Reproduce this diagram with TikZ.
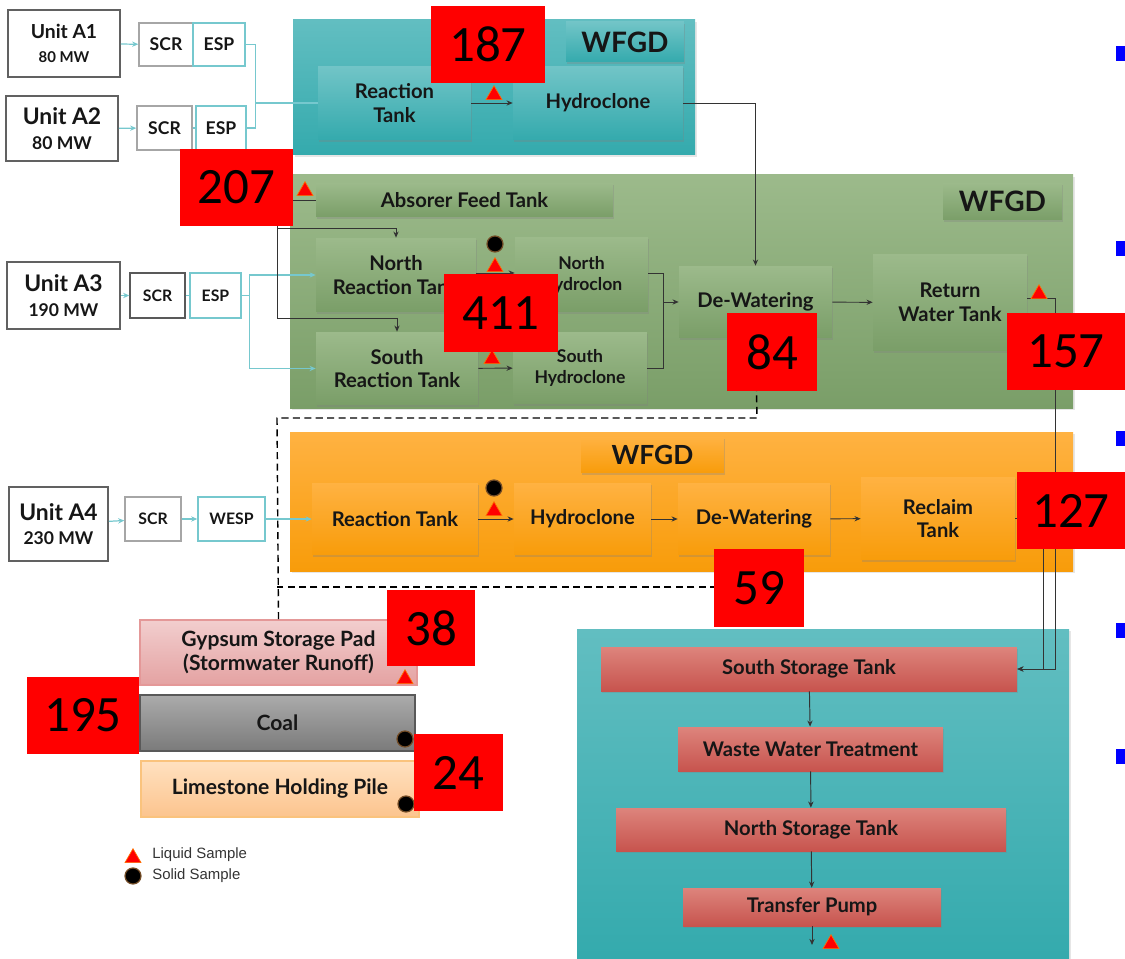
\documentclass[tikz,border=0pt]{standalone}
\usepackage{fontspec}
\setmainfont{Lato}
\newfontfamily\numfont{Carlito}
\newfontfamily\legendfont{Liberation Sans}
\usetikzlibrary{shapes.geometric,shadows,arrows.meta}

\definecolor{ink}{RGB}{22,22,22}
\definecolor{feedcol}{RGB}{118,200,206}
\definecolor{tallyred}{RGB}{255,0,0}
\definecolor{tealtop}{RGB}{98,190,193}
\definecolor{tealbot}{RGB}{52,170,173}
\definecolor{greentop}{RGB}{156,186,139}
\definecolor{greenbot}{RGB}{122,158,104}
\definecolor{orangetop}{RGB}{255,178,66}
\definecolor{orangebot}{RGB}{248,156,10}
\definecolor{redtop}{RGB}{221,132,124}
\definecolor{redbot}{RGB}{199,84,78}

\tikzset{
  unitbox/.style={draw=black!62, line width=0.9pt, fill=white, align=center,
    inner sep=0pt, text=ink, font=\bfseries\fontsize{13}{14}\selectfont},
  scrbox/.style={draw=black!35, line width=0.8pt, fill=white, inner sep=0pt,
    text=ink, font=\bfseries\fontsize{10}{10}\selectfont},
  espbox/.style={scrbox, draw=feedcol},
  tank/.style={align=center, inner sep=1pt, text=ink,
    font=\bfseries\fontsize{11.5}{13.5}\selectfont,
    drop shadow={shadow xshift=0.8pt, shadow yshift=-1.2pt, opacity=0.3}},
  tealtank/.style={tank, top color=tealtop!90!white, bottom color=tealbot},
  greentank/.style={tank, top color=greentop, bottom color=greenbot},
  orangetank/.style={tank, top color=orangetop, bottom color=orangebot},
  redtank/.style={tank, top color=redtop, bottom color=redbot},
  wfgdlabel/.style={font=\bfseries\fontsize{16}{16}\selectfont},
  tealpanel/.style={top color=tealtop, bottom color=tealbot,
    drop shadow={shadow xshift=1pt, shadow yshift=-1pt, opacity=0.2}},
  greenpanel/.style={top color=greentop, bottom color=greenbot,
    drop shadow={shadow xshift=1pt, shadow yshift=-1pt, opacity=0.2}},
  orangepanel/.style={top color=orangetop, bottom color=orangebot,
    drop shadow={shadow xshift=1pt, shadow yshift=-1pt, opacity=0.2}},
  pilebox/.style={align=center, inner sep=0pt, text=ink, line width=0.9pt,
    font=\bfseries\fontsize{12}{14}\selectfont},
  tally/.style={fill=tallyred, inner sep=0pt, text=black,
    font=\numfont\fontsize{29}{29}\selectfont},
  liquidmark/.style={regular polygon, regular polygon sides=3, fill=red,
    draw=orange!85!red, line width=0.4pt, minimum size=0.37cm, inner sep=0pt},
  solidmark/.style={circle, fill=black, draw=brown!60!black, line width=0.7pt,
    minimum size=0.32cm, inner sep=0pt},
  flow/.style={-{Stealth[length=3.5pt,width=3pt]}, line width=0.55pt, draw=black!80},
  pipe/.style={line width=0.55pt, draw=black!80},
  feed/.style={-{Stealth[length=3.5pt,width=3pt]}, line width=0.7pt, draw=feedcol},
  feedline/.style={line width=0.7pt, draw=feedcol},
  transfer/.style={dashed, line width=0.8pt, draw=black, dash pattern=on 4pt off 2.5pt},
  legendtext/.style={anchor=west, inner sep=0pt, text=black!80,
    font=\legendfont\fontsize{8.5}{9}\selectfont}
}

\begin{document}
\begin{tikzpicture}[x=0.02cm, y=-0.02cm]
\useasboundingbox (0,0) rectangle (1125,959);

% background panels
\path[tealpanel] (293,20) rectangle (695,155);
\path[greenpanel] (290,175) rectangle (1073,408);
\path[orangepanel] (290,432) rectangle (1073,571);
\path[tealpanel] (577,629) rectangle (1069,959);

% units and gas cleaning
\node[unitbox, minimum width=2.24cm, minimum height=1.34cm] (uA1) at (64,43.5)
  {{\fontsize{11}{12}\selectfont Unit A1}\\{\fontsize{8.5}{10}\selectfont 80 MW}};
\node[scrbox, minimum width=1.08cm, minimum height=0.86cm] (scrA1) at (166,44.5) {SCR};
\node[espbox, minimum width=1.04cm, minimum height=0.86cm] (espA1) at (219,44.5) {ESP};
\node[unitbox, minimum width=2.24cm, minimum height=1.30cm] (uA2) at (62,128.5)
  {Unit A2\\{\fontsize{10}{11}\selectfont 80 MW}};
\node[scrbox, minimum width=1.10cm, minimum height=0.88cm] (scrA2) at (164.5,128) {SCR};
\node[espbox, minimum width=1.00cm, minimum height=0.88cm] (espA2) at (221,128) {ESP};
\node[unitbox, minimum width=2.26cm, minimum height=1.34cm] (uA3) at (63.5,295.5)
  {Unit A3\\{\fontsize{10}{11}\selectfont 190 MW}};
\node[scrbox, font=\bfseries\fontsize{9}{9}\selectfont, draw=black!65,
  minimum width=1.10cm, minimum height=0.90cm] (scrA3) at (157.5,295.5) {SCR};
\node[espbox, font=\bfseries\fontsize{9}{9}\selectfont,
  minimum width=1.02cm, minimum height=0.90cm] (espA3) at (215.5,295.5) {ESP};
\node[unitbox, minimum width=1.98cm, minimum height=1.48cm] (uA4) at (58.5,524)
  {Unit A4\\{\fontsize{10}{11}\selectfont 230 MW}};
\node[scrbox, font=\bfseries\fontsize{9}{9}\selectfont,
  minimum width=1.12cm, minimum height=0.88cm] (scrA4) at (153,519) {SCR};
\node[espbox, font=\bfseries\fontsize{9}{9}\selectfont,
  minimum width=1.34cm, minimum height=0.88cm] (wespA4) at (231.5,519) {WESP};

% top WFGD
\node[tealtank, wfgdlabel, minimum width=2.36cm, minimum height=0.80cm] (wfgdA) at (625,42) {WFGD};
\node[tealtank, minimum width=3.06cm, minimum height=1.48cm] (rtA) at (394.5,103) {Reaction\\Tank};
\node[tealtank, minimum width=3.40cm, minimum height=1.48cm] (hcA) at (598,103) {Hydroclone};

% middle WFGD
\node[greentank, wfgdlabel, minimum width=2.38cm, minimum height=0.74cm] (wfgdB) at (1002.5,201.5) {WFGD};
\node[greentank, minimum width=5.94cm, minimum height=0.68cm] (aft) at (464.5,200) {Absorer Feed Tank};
\node[greentank, minimum width=3.20cm, minimum height=1.48cm] (nrt) at (396,275) {North\\Reaction Tank};
\node[greentank, font=\bfseries\fontsize{10}{12}\selectfont,
  minimum width=2.66cm, minimum height=1.50cm] (nhc) at (581.5,274.5) {North\\Hydroclon};
\node[greentank, minimum width=3.24cm, minimum height=1.46cm] (srt) at (397,368.5) {South\\Reaction Tank};
\node[greentank, font=\bfseries\fontsize{10}{12}\selectfont,
  minimum width=2.68cm, minimum height=1.44cm] (shc) at (580,368) {South\\Hydroclone};
\node[greentank, minimum width=3.06cm, minimum height=1.44cm] (dwB) at (755.5,302) {De-Watering};
\node[greentank, minimum width=3.08cm, minimum height=1.94cm] (rwt) at (950,302.5) {Return\\Water Tank};

% bottom WFGD
\node[orangetank, wfgdlabel, font=\bfseries\fontsize{15}{15}\selectfont,
  minimum width=2.86cm, minimum height=0.72cm] (wfgdC) at (652.5,455) {WFGD};
\node[orangetank, minimum width=3.32cm, minimum height=1.44cm] (rtC) at (395,519) {Reaction Tank};
\node[orangetank, minimum width=2.74cm, minimum height=1.44cm] (hcC) at (582.5,519) {Hydroclone};
\node[orangetank, minimum width=3.04cm, minimum height=1.44cm] (dwC) at (754,519) {De-Watering};
\node[orangetank, minimum width=3.08cm, minimum height=1.66cm] (rcC) at (938,518.5) {Reclaim\\Tank};

% storage piles
\node[pilebox, draw={rgb,255:red,228;green,152;blue,152},
  top color={rgb,255:red,242;green,206;blue,206}, bottom color={rgb,255:red,228;green,162;blue,162},
  minimum width=5.54cm, minimum height=1.30cm] (gyp) at (278.5,652.5)
  {Gypsum Storage Pad\\(Stormwater Runoff)};
\node[pilebox, draw=black!65,
  top color=black!33, bottom color=black!52,
  minimum width=5.50cm, minimum height=1.12cm] (coal) at (277.5,723) {Coal};
\node[pilebox, draw={rgb,255:red,250;green,195;blue,125},
  top color={rgb,255:red,255;green,225;blue,192}, bottom color={rgb,255:red,252;green,196;blue,142},
  minimum width=5.56cm, minimum height=1.12cm] (lime) at (280,789) {Limestone Holding Pile};

% wastewater train
\node[redtank, minimum width=8.32cm, minimum height=0.88cm] (sst) at (809,669) {South Storage Tank};
\node[redtank, minimum width=5.30cm, minimum height=0.88cm] (wwt) at (810.5,749) {Waste Water Treatment};
\node[redtank, minimum width=7.80cm, minimum height=0.86cm] (nst) at (811,829.5) {North Storage Tank};
\node[redtank, minimum width=5.16cm, minimum height=0.76cm] (tp) at (812,907) {Transfer Pump};
\coordinate (tpout) at (812,945);

% flue gas feeds
\draw[feed] (uA1) -- (scrA1);
\draw[feed] (uA2) -- (scrA2);
\draw[feedline] (scrA2) -- (espA2);
\draw[feedline] (espA1.east) -- ++(10,0) |- (rtA.west);
\draw[feedline] (espA2.east) -- ++(9,0) |- (rtA.west);
\draw[feed] (uA3) -- (scrA3);
\draw[feedline] (scrA3) -- (espA3);
\draw[feedline] (espA3.east) -- ++(8,0) coordinate (splitA3);
\draw[feed] (splitA3) |- (nrt.west);
\draw[feed] (splitA3) |- (srt.west);
\draw[feed] (uA4) -- (scrA4);
\draw[feed] (scrA4) -- (wespA4);
\draw[feed] (wespA4) -- (rtC);

% slurry flows
\draw[flow] (rtA) -- (hcA);
\draw[flow] (hcA.east) -| (dwB.north);
\coordinate (feedbus) at (277,228);
\draw[flow] (aft.west) -| (277,318) -| (srt.north);
\draw[flow] (feedbus) -| (nrt.north);
\draw[flow] (nrt.east |- 0,273) -- (nhc.west |- 0,273);
\draw[flow] (srt) -- (shc);
\draw[pipe] (nhc.east |- 0,273) -- (663,273) -- (663,368) -- (shc.east);
\draw[flow] (663,302) -- (dwB.west);
\draw[flow] (dwB) -- (rwt);
\draw[flow] (rwt.east |- 0,298) -- (1055,298) |- (sst.east);
\draw[flow] (rtC) -- (hcC);
\draw[flow] (hcC) -- (dwC);
\draw[flow] (dwC) -- (rcC);
\draw[flow] (rcC.east) -- (1043,518.5) |- (sst.east);
\draw[flow] (sst) -- (wwt);
\draw[flow] (wwt) -- (nst);
\draw[flow] (nst) -- (tp);
\draw[flow] (tp) -- (tpout);

% gypsum transfer
\draw[transfer] (dwB.south) -- (757,418) -- (277,418) -- (gyp.north);
\draw[transfer] (dwC.south) -- (754,587) -- (277,587);

% sample points
\node[liquidmark] (lqA) at (494,95) {};
\node[liquidmark] (lqFeed) at (305,191) {};
\node[solidmark] (sdN) at (495,244) {};
\node[liquidmark] (lqN) at (495,267) {};
\node[liquidmark] (lqS) at (492,359) {};
\node[liquidmark] (lqRwt) at (1039,294) {};
\node[solidmark] (sdC) at (494,488) {};
\node[liquidmark] (lqC) at (494,511) {};
\node[liquidmark] (lqGyp) at (405,679) {};
\node[solidmark] (sdCoal) at (405,739) {};
\node[solidmark] (sdLime) at (406,804) {};
\node[liquidmark] (lqTp) at (831,944) {};

% sample counts
\node[tally, minimum width=2.28cm, minimum height=1.54cm] (n187) at (488,44.5) {187};
\node[tally, minimum width=2.26cm, minimum height=1.54cm] (n207) at (236.5,187.5) {207};
\node[tally, minimum width=2.28cm, minimum height=1.56cm] (n411) at (501,313) {411};
\node[tally, minimum width=1.80cm, minimum height=1.56cm] (n84) at (772,352) {84};
\node[tally, minimum width=2.36cm, minimum height=1.54cm] (n157) at (1066,351.5) {157};
\node[tally, minimum width=2.16cm, minimum height=1.54cm] (n127) at (1071,510.5) {127};
\node[tally, minimum width=1.80cm, minimum height=1.56cm] (n59) at (759,588) {59};
\node[tally, minimum width=1.76cm, minimum height=1.52cm] (n38) at (431,628) {38};
\node[tally, minimum width=2.24cm, minimum height=1.54cm] (n195) at (83,715.5) {195};
\node[tally, minimum width=1.78cm, minimum height=1.54cm] (n24) at (458.5,772.5) {24};

% legend
\node[liquidmark] (lgLiq) at (133,858) {};
\node[legendtext] (lgLiqText) at (152,855) {Liquid Sample};
\node[solidmark] (lgSol) at (133,876) {};
\node[legendtext] (lgSolText) at (152,876) {Solid Sample};

% slide bullets at the edge
\foreach \by in {46,241,431,623,749}
  \fill[blue] (1116,\by) rectangle (1125,\by+15);
\end{tikzpicture}
\end{document}
